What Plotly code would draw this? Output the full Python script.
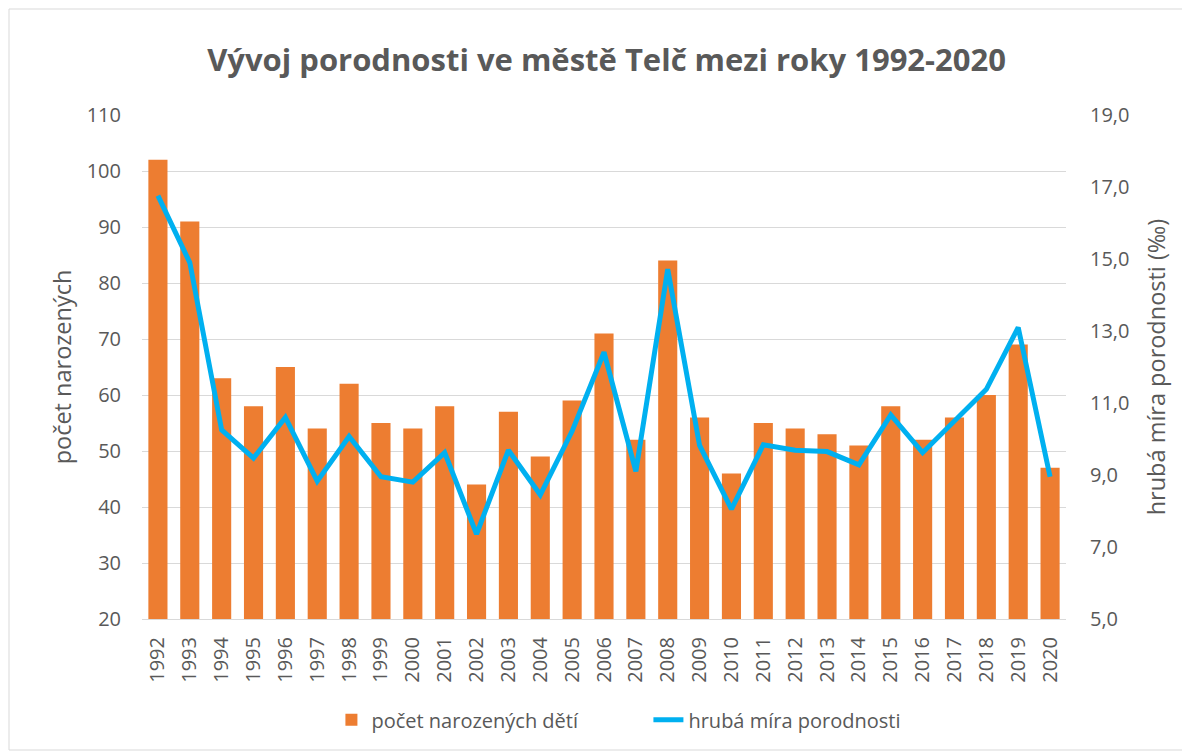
import plotly.graph_objects as go

years = [str(y) for y in range(1992, 2021)]
births = [102, 91, 63, 58, 65, 54, 62, 55, 54, 58, 44, 57, 49, 59, 71, 52, 84, 56, 46, 55,
          54, 53, 51, 58, 52, 56, 60, 69, 47]
rate = [16.76, 14.9, 10.25, 9.47, 10.6, 8.83, 10.07, 8.95, 8.8, 9.62, 7.36, 9.69, 8.45, 10.22,
        12.41, 9.1, 14.72, 9.82, 8.05, 9.84, 9.69, 9.65, 9.28, 10.67, 9.62, 10.52, 11.38, 13.1, 8.95]

title = "Vývoj porodnosti ve městě Telč mezi roky 1992-2020"
bar_name = "počet narozených dětí"
line_name = "hrubá míra porodnosti"
left_title = "počet narozených"
right_title = "hrubá míra porodnosti (‰)"

FONT = "'Open Sans', 'Noto Sans', sans-serif"
GREY = "#595959"

fig = go.Figure()
fig.add_trace(go.Bar(x=years, y=births, name=bar_name, marker_color="#ed7d31",
                     marker_line_width=0, yaxis="y"))
fig.add_trace(go.Scatter(x=years, y=rate, name=line_name, mode="lines",
                         line=dict(color="#00b0f0", width=5), yaxis="y2"))

fig.update_layout(
    width=1190, height=751,
    margin=dict(l=134, r=132, t=107, b=140),
    paper_bgcolor="white", plot_bgcolor="white",
    separators=", ",
    font=dict(family=FONT, color=GREY, size=18),
    title=dict(text="<b>" + title + "</b>", x=0.503, xanchor="center", y=0.931, yanchor="middle",
               font=dict(size=31, color=GREY, family=FONT)),
    bargap=0.4,
    showlegend=True,
    legend=dict(orientation="h", x=0.205, xanchor="left", y=-0.2, yanchor="middle",
                font=dict(size=20, color=GREY), entrywidth=272, entrywidthmode="pixels"),
    xaxis=dict(type="category", tickangle=-90, showgrid=False, showline=True,
               linecolor="#d9d9d9", linewidth=1, ticks="", ticklabelstandoff=9,
               tickfont=dict(size=20, color=GREY)),
    yaxis=dict(range=[20, 110], dtick=10, tick0=20, showgrid=True, gridcolor="#d9d9d9",
               gridwidth=1, zeroline=False, ticks="", ticklabelstandoff=20,
               tickfont=dict(size=20, color=GREY),
               title=dict(text=left_title, font=dict(size=23.5, color=GREY), standoff=8)),
    yaxis2=dict(range=[5, 19], dtick=2, tick0=5, overlaying="y", side="right", showgrid=False,
                zeroline=False, tickformat=".1f", ticks="", ticklabelstandoff=23,
                tickfont=dict(size=20, color=GREY),
                title=dict(text=right_title, font=dict(size=23.5, color=GREY), standoff=20)),
)

fig.add_shape(type="rect", xref="paper", yref="paper",
              x0=-133 / 924, x1=1046 / 924, y0=-131 / 504, y1=1 + 106 / 504,
              line=dict(color="#d9d9d9", width=1), fillcolor="rgba(0,0,0,0)")

fig.write_html("out.html")
